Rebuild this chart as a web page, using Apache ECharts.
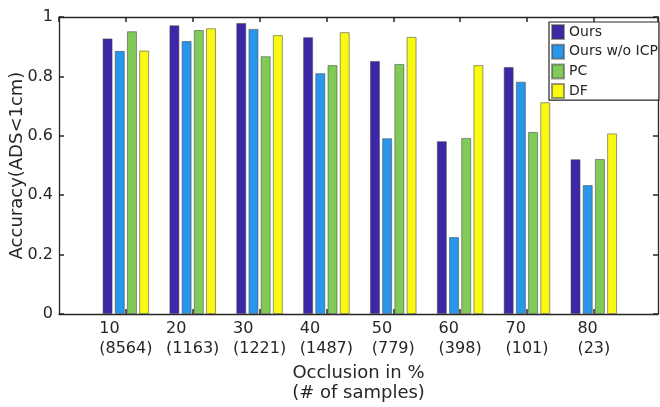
<!DOCTYPE html>
<html>
<head>
<meta charset="utf-8">
<script src="https://cdn.jsdelivr.net/npm/echarts@6/dist/echarts.min.js"></script>
<style>html,body{margin:0;padding:0;background:#fff}#c{width:660px;height:407px}</style>
</head>
<body>
<div id="c"></div>
<script>
var occlusion = [10, 20, 30, 40, 50, 60, 70, 80];
var sampleCounts = [8564, 1163, 1221, 1487, 779, 398, 101, 23];
var seriesNames = ['Ours', 'Ours w/o ICP', 'PC', 'DF'];
var ours      = [0.928, 0.972, 0.980, 0.932, 0.852, 0.582, 0.832, 0.521];
var oursNoICP = [0.886, 0.919, 0.960, 0.811, 0.592, 0.259, 0.782, 0.434];
var pc        = [0.952, 0.956, 0.868, 0.838, 0.842, 0.593, 0.613, 0.522];
var df        = [0.887, 0.962, 0.939, 0.949, 0.933, 0.838, 0.713, 0.608];
var yTicks = [0, 0.2, 0.4, 0.6, 0.8, 1];

var colors = ['#3E26A8', '#2896EA', '#80CB58', '#F9F914'];
var values = [ours, oursNoICP, pc, df];
var FONT = 'DejaVu Sans';
var INK = '#262626';

function toPoints(arr) { return arr.map(function (v, i) { return [i + 1, v]; }); }

var series = values.map(function (arr, k) {
  return {
    name: seriesNames[k],
    type: 'bar',
    xAxisIndex: 0,
    yAxisIndex: 0,
    data: toPoints(arr),
    barWidth: 10,
    barGap: '22%',
    itemStyle: { color: colors[k], borderColor: 'rgba(70,70,70,0.55)', borderWidth: 1 }
  };
});

var axisLineStyle = { show: true, onZero: false, lineStyle: { color: INK, width: 1.3 } };
var tickStyle = { show: true, inside: true, length: 5, lineStyle: { color: INK, width: 1.5 } };

var chart = echarts.init(document.getElementById('c'), null, { renderer: 'canvas' });
chart.setOption({
  animation: false,
  backgroundColor: '#fff',
  textStyle: { fontFamily: FONT },
  grid: { left: 59, right: 2, top: 17, bottom: 93, containLabel: false, outerBoundsMode: 'none' },
  legend: {
    data: seriesNames,
    orient: 'vertical',
    left: 549,
    top: 22,
    itemWidth: 12,
    itemHeight: 14,
    itemGap: 3.7,
    icon: 'rect',
    padding: [2, 1, 1, 2],
    borderColor: INK,
    borderWidth: 1.2,
    backgroundColor: '#fff',
    textStyle: { fontFamily: FONT, fontSize: 14, color: INK }
  },
  xAxis: [{
    type: 'value',
    position: 'bottom',
    min: 0, max: 8.96, interval: 1,
    name: 'Occlusion in %\n(# of samples)',
    nameLocation: 'middle',
    nameGap: 50,
    nameMoveOverlap: false,
    nameTextStyle: { fontFamily: FONT, fontSize: 18, color: INK, lineHeight: 19.5 },
    axisLine: axisLineStyle,
    axisTick: tickStyle,
    splitLine: { show: false },
    axisLabel: {
      margin: 5,
      align: 'center',
      color: INK,
      fontFamily: FONT,
      fontSize: 16,
      lineHeight: 20,
      showMinLabel: false,
      showMaxLabel: false,
      formatter: function (v) {
        var i = Math.round(v) - 1;
        if (Math.abs(v - Math.round(v)) > 1e-6 || i < 0 || i >= occlusion.length) return '';
        return '{a|' + occlusion[i] + '}\n{a|(' + sampleCounts[i] + ')}';
      },
      rich: { a: { align: 'left', fontFamily: FONT, fontSize: 16, lineHeight: 20, color: INK } }
    }
  }, {
    type: 'value',
    position: 'top',
    min: 0, max: 8.96, interval: 1,
    axisLine: axisLineStyle,
    axisTick: tickStyle,
    axisLabel: { show: false },
    splitLine: { show: false }
  }],
  yAxis: [{
    type: 'value',
    position: 'left',
    min: yTicks[0], max: yTicks[yTicks.length - 1], interval: 0.2,
    name: 'Accuracy(ADS<1cm)',
    nameLocation: 'middle',
    nameGap: 33,
    nameMoveOverlap: false,
    nameTextStyle: { fontFamily: FONT, fontSize: 18, color: INK },
    axisLine: axisLineStyle,
    axisTick: tickStyle,
    splitLine: { show: false },
    axisLabel: { margin: 6, color: INK, fontFamily: FONT, fontSize: 16,
      formatter: function (v) { return String(+v.toFixed(1)); } }
  }, {
    type: 'value',
    position: 'right',
    min: yTicks[0], max: yTicks[yTicks.length - 1], interval: 0.2,
    axisLine: axisLineStyle,
    axisTick: tickStyle,
    axisLabel: { show: false },
    splitLine: { show: false }
  }],
  series: series
});
</script>
</body>
</html>
